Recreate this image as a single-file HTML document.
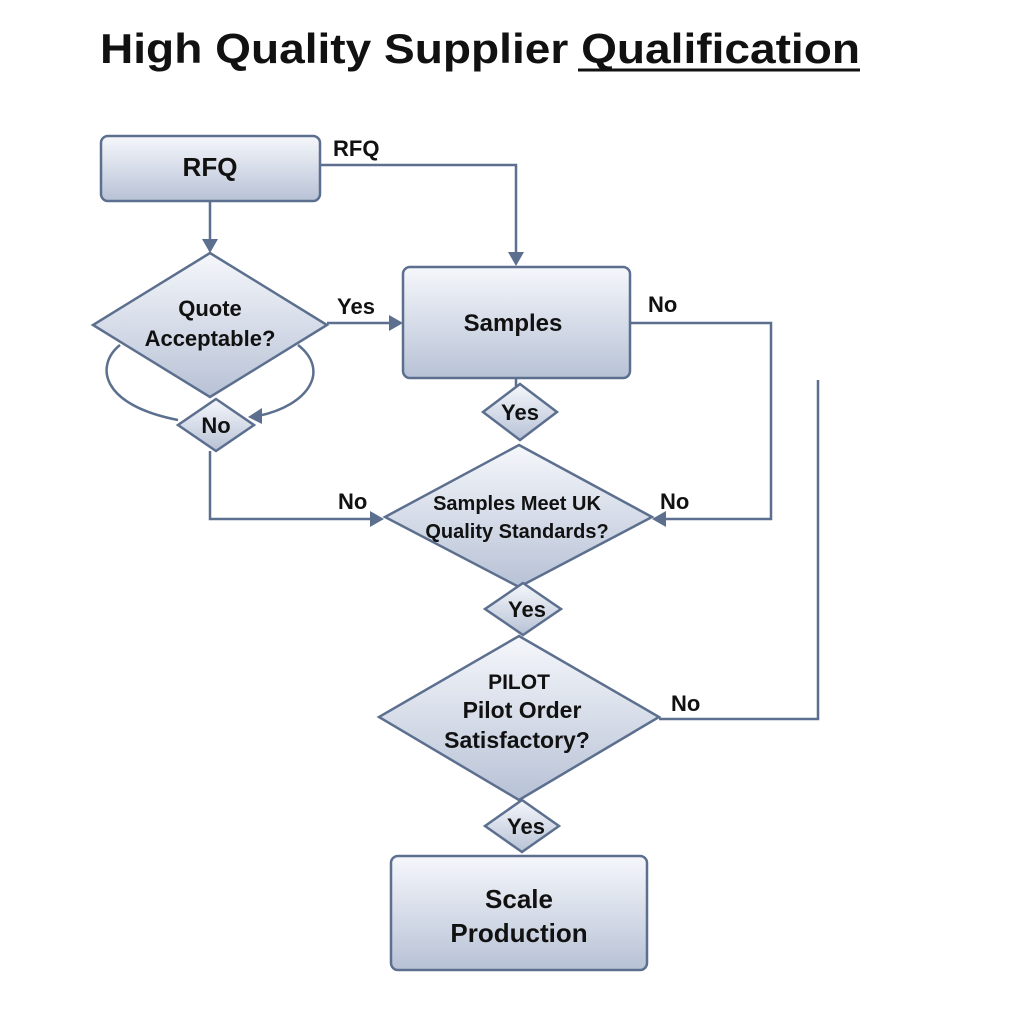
<!DOCTYPE html>
<html><head><meta charset="utf-8"><style>
html,body{margin:0;padding:0;background:#fff;}
svg{display:block;}
text{font-family:"Liberation Sans",sans-serif;fill:#111;font-weight:bold;}
</style></head><body>
<svg width="1024" height="1024" viewBox="0 0 1024 1024" xmlns="http://www.w3.org/2000/svg">
<defs>
<linearGradient id="g" x1="0" y1="0" x2="0" y2="1">
<stop offset="0" stop-color="#f5f7fb"/><stop offset="1" stop-color="#b8c2d6"/>
</linearGradient>
</defs>
<text x="100" y="63" style="font-size:42px;font-family:'Liberation Sans',sans-serif;font-weight:bold" textLength="760" lengthAdjust="spacingAndGlyphs">High Quality Supplier Qualification</text>
<line x1="578" y1="70" x2="860" y2="70" stroke="#111" stroke-width="3"/>

<g stroke="#5c6f8e" stroke-width="2.5" fill="none">
<polyline points="320,165 516,165 516,255"/>
<line x1="210" y1="201" x2="210" y2="242"/>
<line x1="327" y1="323" x2="392" y2="323"/>
<polyline points="210,451 210,519 372,519"/>
<polyline points="630,323 771,323 771,519 665,519"/>
<polyline points="659,719 818,719 818,380"/>
<path d="M120,345 C95,365 100,405 178,420"/>
<path d="M298,345 C330,370 310,405 258,416"/>
<line x1="516" y1="378" x2="516" y2="386"/>
</g>
<g fill="#5c6f8e">
<polygon points="516,266 508,252 524,252"/>
<polygon points="210,253 202,239 218,239"/>
<polygon points="403,323 389,315 389,331"/>
<polygon points="384,519 370,511 370,527"/>
<polygon points="652,519 666,511 666,527"/>
<polygon points="248,417 262,408 262,424"/>
</g>

<g stroke="#5c6f8e" stroke-width="2.5" fill="url(#g)">
<rect x="101" y="136" width="219" height="65" rx="7"/>
<rect x="403" y="267" width="227" height="111" rx="7"/>
<rect x="391" y="856" width="256" height="114" rx="7"/>
<polygon points="210,253 327,325 210,397 93,325"/>
<polygon points="216,399 254,425 216,451 178,425"/>
<polygon points="520,384 557,412 520,440 483,412"/>
<polygon points="519,445 652,517 519,587 385,517"/>
<polygon points="523,583 561,609 523,635 485,609"/>
<polygon points="519,636 659,717 519,800 379,717"/>
<polygon points="522,800 559,826 522,852 485,826"/>
</g>

<g font-size="22" text-anchor="middle">
<text x="210" y="176" font-size="26">RFQ</text>
<text x="210" y="316">Quote</text>
<text x="210" y="346">Acceptable?</text>
<text x="216" y="433">No</text>
<text x="513" y="331" font-size="24">Samples</text>
<text x="520" y="420">Yes</text>
<text x="517" y="510" font-size="20">Samples Meet UK</text>
<text x="517" y="538" font-size="20">Quality Standards?</text>
<text x="527" y="617">Yes</text>
<text x="519" y="689" font-size="21">PILOT</text>
<text x="522" y="718" font-size="23">Pilot Order</text>
<text x="517" y="748" font-size="23">Satisfactory?</text>
<text x="526" y="834">Yes</text>
<text x="519" y="908" font-size="26">Scale</text>
<text x="519" y="942" font-size="26">Production</text>
</g>
<g font-size="22">
<text x="333" y="156">RFQ</text>
<text x="337" y="314">Yes</text>
<text x="338" y="509">No</text>
<text x="648" y="312">No</text>
<text x="660" y="509">No</text>
<text x="671" y="711">No</text>
</g>
</svg>
</body></html>
